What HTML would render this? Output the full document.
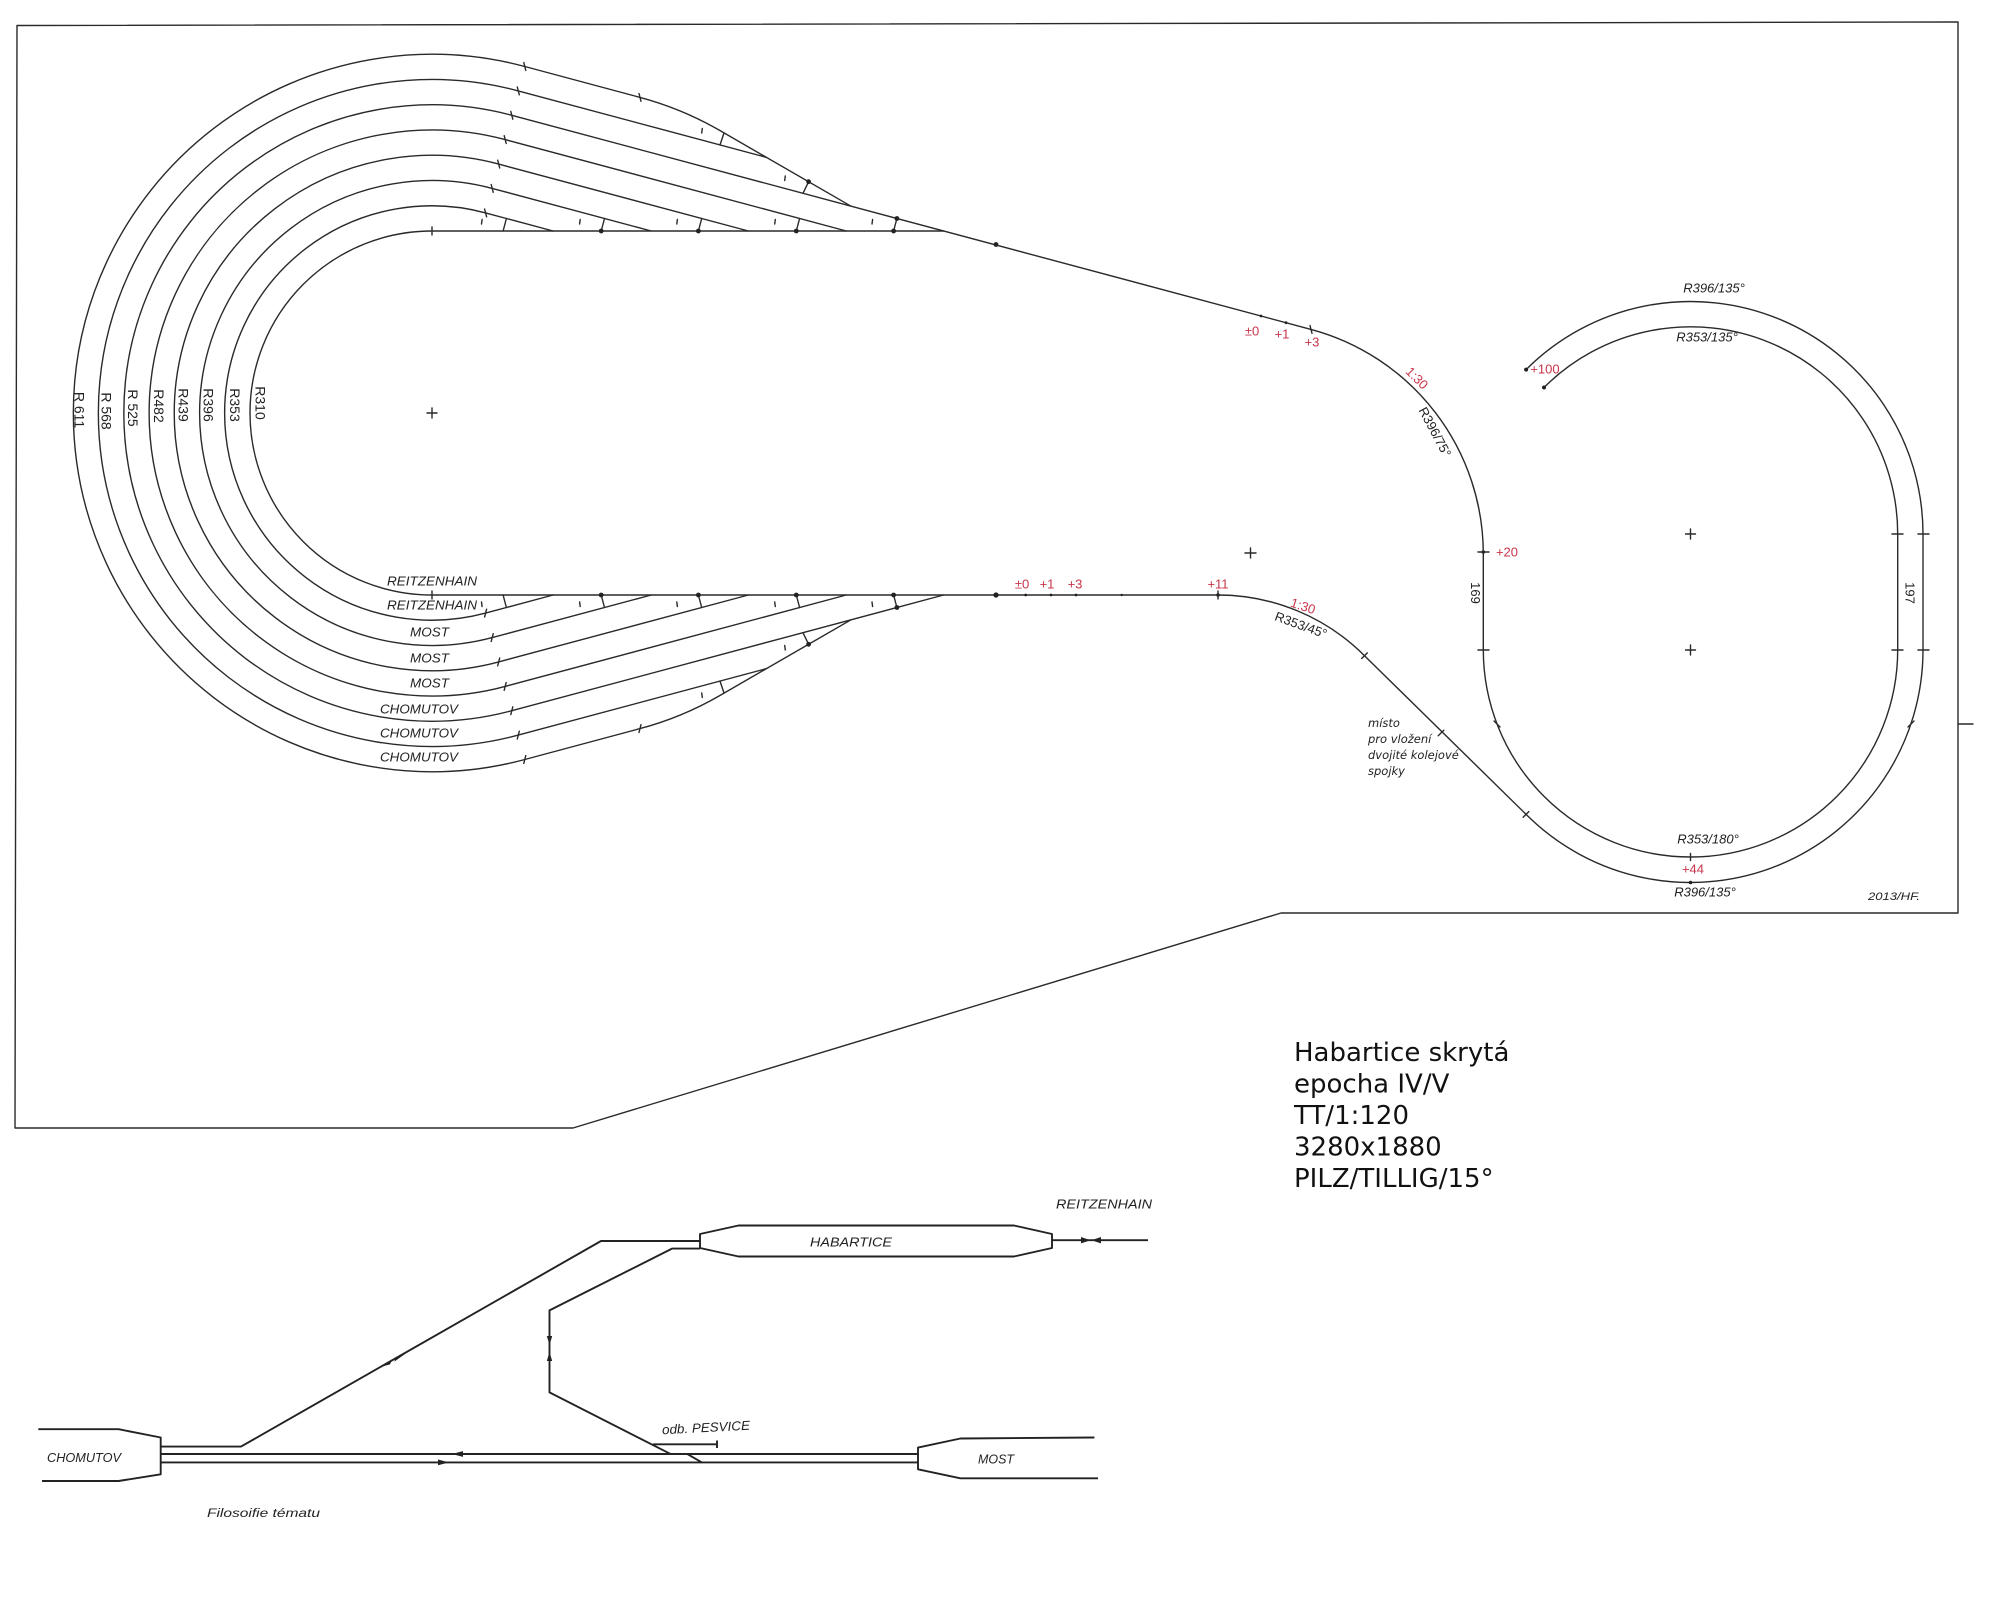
<!DOCTYPE html>
<html>
<head>
<meta charset="utf-8">
<style>
html,body{margin:0;padding:0;background:#fff;}
svg{display:block;}
.ln{fill:none;stroke:#2a2a2a;stroke-width:1.4;stroke-linejoin:round;stroke-linecap:round;}
.th{fill:none;stroke:#222;stroke-width:1.9;stroke-linejoin:round;}
.t{font-family:"Liberation Sans","DejaVu Sans",sans-serif;font-size:13px;fill:#222;}
.tr{font-family:"Liberation Sans","DejaVu Sans",sans-serif;font-size:14px;fill:#222;}
.ti{font-family:"Liberation Sans","DejaVu Sans",sans-serif;font-size:13px;fill:#222;font-style:italic;}
.r{font-family:"Liberation Sans","DejaVu Sans",sans-serif;font-size:13px;fill:#c8344a;}
.big{font-family:"DejaVu Sans","Liberation Sans",sans-serif;font-size:26px;fill:#111;}
.note{font-family:"DejaVu Sans","Liberation Sans",sans-serif;font-size:11.5px;fill:#222;font-style:italic;}
</style>
</head>
<body>
<svg width="2000" height="1600" viewBox="0 0 2000 1600" xmlns="http://www.w3.org/2000/svg">
<rect width="2000" height="1600" fill="#fff"/>

<!-- border -->
<path class="ln" d="M17,25.5 L1958,22 L1958,913 L1281,913 L573,1128 L15,1128 Z"/>
<path class="ln" d="M1958,724 L1973,724"/>

<!-- left loop tracks -->
<path class="ln" d="M553.1,231 L485.6,212.9 A207.2,207.2 0 1 0 485.6,613.1 L553.1,595"/>
<path class="ln" d="M651.2,231 L492.2,188.4 A232.5,232.5 0 1 0 492.2,637.6 L651.2,595"/>
<path class="ln" d="M748.4,231 L498.7,164.1 A257.7,257.7 0 1 0 498.7,661.9 L748.4,595"/>
<path class="ln" d="M846.3,231 L505.2,139.6 A283,283 0 1 0 505.2,686.4 L846.3,595"/>
<path class="ln" d="M1311,329.4 L511.8,115.3 A308.2,308.2 0 1 0 511.8,710.7 L943.6,595"/>
<path class="ln" d="M766.5,157.4 L518.3,90.9 A333.5,333.5 0 1 0 518.3,735.1 L766.5,668.6"/>
<path class="ln" d="M851,206.2 L719.7,130.4 Q682,108.6 640,97.4 L524.8,66.5 A358.7,358.7 0 1 0 524.8,759.5 L640,728.6 Q682,717.4 719.7,695.6 L851,619.8"/>
<!-- main inner track + bottom route + right loop outer -->
<path class="ln" d="M943.6,231 L432,231 A182,182 0 0 0 432,595 L1218,595 A207.2,207.2 0 0 1 1364.5,655.7 L1526.1,814.4 A232.5,232.5 0 0 0 1923,650 L1923,534 A232.5,232.5 0 0 0 1526.1,369.6"/>
<!-- upper route into right loop inner -->
<path class="ln" d="M1311,329.4 A232.5,232.5 0 0 1 1483.3,554 L1483.3,650 A207.2,207.2 0 0 0 1897.7,650 L1897.7,534 A207.2,207.2 0 0 0 1544,387.5"/>

<!-- tangent ticks -->
<path class="ln" d="M484.6,209 L486.6,216.8 M491.2,184.5 L493.2,192.3 M497.7,160.2 L499.7,168 M504.2,135.7 L506.2,143.5 M510.8,111.4 L512.8,119.2 M517.3,87 L519.3,94.8 M523.8,62.6 L525.8,70.4 M639,93.5 L641,101.3 M432,227 L432,235"/>
<path class="ln" d="M484.6,617 L486.6,609.2 M491.2,641.5 L493.2,633.7 M497.7,665.8 L499.7,658 M504.2,690.3 L506.2,682.5 M510.8,714.6 L512.8,706.8 M517.3,739 L519.3,731.2 M523.8,763.4 L525.8,755.6 M639,732.5 L641,724.7 M432,591 L432,599"/>

<!-- turnout markers top -->
<path class="ln" d="M503.1,231 L506.4,218.5 M601.2,231 L604.5,218.5 M698.4,231 L701.7,218.5 M796.3,231 L799.6,218.5 M893.6,231 L896.9,218.5 M803,193.3 L808.6,181.7 M720,144.9 L724,133"/>
<path class="ln" d="M481.5,224 L482.1,219.5 M579.6,224 L580.2,219.5 M676.8,224 L677.4,219.5 M774.7,224 L775.3,219.5 M872,224 L872.6,219.5 M784.7,180.5 L785.3,176 M701.7,133 L702.3,128.5"/>
<!-- turnout markers bottom -->
<path class="ln" d="M503.1,595 L506.4,607.5 M601.2,595 L604.5,607.5 M698.4,595 L701.7,607.5 M796.3,595 L799.6,607.5 M893.6,595 L896.9,607.5 M803,632.7 L808.6,644.3 M720,681.1 L724,693"/>
<path class="ln" d="M481.5,602 L482.1,606.5 M579.6,602 L580.2,606.5 M676.8,602 L677.4,606.5 M774.7,602 L775.3,606.5 M872,602 L872.6,606.5 M784.7,645.5 L785.3,650 M701.7,693 L702.3,697.5"/>
<g fill="#222">
<circle cx="601.2" cy="231" r="2.4"/><circle cx="698.4" cy="231" r="2.4"/><circle cx="796.3" cy="231" r="2.4"/><circle cx="893.6" cy="231" r="2.4"/><circle cx="896.9" cy="218.5" r="2.4"/><circle cx="808.6" cy="181.7" r="2.4"/><circle cx="996" cy="244.5" r="2.4"/>
<circle cx="601.2" cy="595" r="2.4"/><circle cx="698.4" cy="595" r="2.4"/><circle cx="796.3" cy="595" r="2.4"/><circle cx="893.6" cy="595" r="2.4"/><circle cx="896.9" cy="607.5" r="2.4"/><circle cx="808.6" cy="644.3" r="2.4"/><circle cx="996" cy="595" r="2.6"/>
<circle cx="1261" cy="316" r="1.4"/><circle cx="1286" cy="322.7" r="1.4"/>
<circle cx="1025.7" cy="595" r="1.4"/><circle cx="1051" cy="595" r="1.4"/><circle cx="1076" cy="595" r="1.4"/><circle cx="1121.7" cy="595" r="1.2"/>
<circle cx="1483.3" cy="552" r="1.8"/><circle cx="1218" cy="595" r="1.8"/>
<circle cx="1526.1" cy="369.6" r="2"/><circle cx="1544" cy="387.5" r="2"/>
<circle cx="1690.5" cy="882.5" r="1.8"/>
</g>

<!-- other ticks -->
<path class="ln" d="M1310,325.5 L1312,333.3 M1218,591 L1218,599 M1478,552 L1489,552 M1478,650 L1489,650 M1892,534 L1903,534 M1892,650 L1903,650 M1918,534 L1929,534 M1918,650 L1929,650 M1361.7,658.5 L1367.3,652.9 M1438.2,735.8 L1443.8,730.2 M1523.2,817.2 L1528.8,811.6 M1494,721 L1500,727 M1908,727 L1914,721 M1690.5,853.5 L1690.5,860.5"/>

<!-- crosses -->
<path class="ln" d="M427,413 L437,413 M432,408 L432,418 M1245,553 L1256,553 M1250.5,548 L1250.5,558 M1685.5,534 L1695.5,534 M1690.5,529 L1690.5,539 M1685.5,650 L1695.5,650 M1690.5,645 L1690.5,655"/>

<!-- left loop radius labels -->
<text class="tr" text-anchor="middle" dy="5" transform="translate(79.3,410) rotate(90)">R 611</text>
<text class="tr" text-anchor="middle" dy="5" transform="translate(106.7,411) rotate(90)">R 568</text>
<text class="tr" text-anchor="middle" dy="5" transform="translate(133,408) rotate(90)">R 525</text>
<text class="tr" text-anchor="middle" dy="5" transform="translate(159,406) rotate(90)">R482</text>
<text class="tr" text-anchor="middle" dy="5" transform="translate(183.5,405) rotate(90)">R439</text>
<text class="tr" text-anchor="middle" dy="5" transform="translate(208.5,405) rotate(90)">R396</text>
<text class="tr" text-anchor="middle" dy="5" transform="translate(235,405) rotate(90)">R353</text>
<text class="tr" text-anchor="middle" dy="5" transform="translate(260.5,403) rotate(90)">R310</text>

<!-- track destination labels -->
<text class="ti" x="387" y="585.5" textLength="90" lengthAdjust="spacingAndGlyphs">REITZENHAIN</text>
<text class="ti" x="387" y="609.5" textLength="90" lengthAdjust="spacingAndGlyphs">REITZENHAIN</text>
<text class="ti" x="410" y="636.5" textLength="39" lengthAdjust="spacingAndGlyphs">MOST</text>
<text class="ti" x="410" y="662.5" textLength="39" lengthAdjust="spacingAndGlyphs">MOST</text>
<text class="ti" x="410" y="687.5" textLength="39" lengthAdjust="spacingAndGlyphs">MOST</text>
<text class="ti" x="380" y="713.5" textLength="78" lengthAdjust="spacingAndGlyphs">CHOMUTOV</text>
<text class="ti" x="380" y="737.5" textLength="78" lengthAdjust="spacingAndGlyphs">CHOMUTOV</text>
<text class="ti" x="380" y="761.5" textLength="78" lengthAdjust="spacingAndGlyphs">CHOMUTOV</text>

<!-- red height marks -->
<text class="r" text-anchor="middle" x="1252" y="335.5">±0</text>
<text class="r" text-anchor="middle" x="1282" y="338.5">+1</text>
<text class="r" text-anchor="middle" x="1312" y="346.5">+3</text>
<text class="r" text-anchor="middle" x="1022" y="588.5">±0</text>
<text class="r" text-anchor="middle" x="1047" y="588.5">+1</text>
<text class="r" text-anchor="middle" x="1075" y="588.5">+3</text>
<text class="r" text-anchor="middle" x="1218" y="588.5">+11</text>
<text class="r" text-anchor="middle" x="1507" y="556.5">+20</text>
<text class="r" text-anchor="middle" x="1545" y="373.5">+100</text>
<text class="r" text-anchor="middle" x="1693" y="873.5">+44</text>
<text class="r" text-anchor="middle" dy="4.5" transform="translate(1417,378) rotate(45)">1:30</text>
<text class="r" text-anchor="middle" dy="4.5" transform="translate(1303,606) rotate(18)">1:30</text>

<!-- right section labels -->
<text class="t" text-anchor="middle" dy="4.5" transform="translate(1435,432) rotate(62)">R396/75°</text>
<text class="t" text-anchor="middle" dy="4.5" transform="translate(1301,625) rotate(20)">R353/45°</text>
<text class="t" text-anchor="middle" dy="4.5" transform="translate(1475.5,593) rotate(90)">169</text>
<text class="t" text-anchor="middle" dy="4.5" transform="translate(1910,593) rotate(90)">197</text>
<text class="ti" text-anchor="middle" x="1714" y="292.5">R396/135°</text>
<text class="ti" text-anchor="middle" x="1707" y="341.5">R353/135°</text>
<text class="ti" text-anchor="middle" x="1708" y="843.5">R353/180°</text>
<text class="ti" text-anchor="middle" x="1705" y="896.5">R396/135°</text>
<text class="ti" x="1868" y="900" textLength="52" lengthAdjust="spacingAndGlyphs" style="font-size:11px">2013/HF.</text>

<text class="note" x="1368" y="727">místo</text>
<text class="note" x="1368" y="743">pro vložení</text>
<text class="note" x="1368" y="759">dvojité kolejové</text>
<text class="note" x="1368" y="775">spojky</text>

<!-- info block -->
<text class="big" x="1294" y="1061">Habartice skrytá</text>
<text class="big" x="1294" y="1092.5">epocha IV/V</text>
<text class="big" x="1294" y="1124">TT/1:120</text>
<text class="big" x="1294" y="1155.5">3280x1880</text>
<text class="big" x="1294" y="1187">PILZ/TILLIG/15°</text>

<!-- schematic -->
<path class="th" d="M738.5,1225.5 L1014,1225.5 L1052,1234 L1052,1248 L1014,1256.5 L738.5,1256.5 L700,1248 L700,1234 Z"/>
<path class="th" d="M700,1241 L601,1241 L241,1446.6 L161,1446.6"/>
<path class="th" d="M700,1248.6 L672,1248.6 L549.5,1310.4 L549.5,1392.4 L670,1453.7"/>
<path class="th" d="M686.7,1453.7 L701.7,1462.3"/>
<path class="th" d="M1052,1240.2 L1148,1240.2"/>
<path class="th" d="M38.3,1429.2 L118.6,1429.2 L160.7,1437.5 L160.7,1474.3 L118.6,1481 L42,1481"/>
<path class="th" d="M160.7,1454 L918,1454 M160.7,1462.4 L918,1462.4"/>
<path class="th" d="M1094.4,1437.5 L960.4,1438.5 L918,1447.6 L918,1469.3 L960.4,1478.3 L1098,1478.3"/>
<path class="th" d="M653,1444.3 L717,1444.3 M717,1440.5 L717,1448"/>
<g fill="#222">
<polygon points="384,1366 392,1359.6 390,1364.4"/>
<polygon points="405,1354 396,1357.4 394.2,1361.8"/>
<polygon points="549.5,1345 546.8,1336 552.2,1336"/>
<polygon points="549.5,1352 546.8,1361 552.2,1361"/>
<polygon points="452,1454 463,1451.1 463,1456.9"/>
<polygon points="449,1462.4 438,1459.5 438,1465.3"/>
<polygon points="1090.5,1240.2 1081,1237 1081,1243.4"/>
<polygon points="1091.5,1240.2 1101,1237 1101,1243.4"/>
</g>
<text class="ti" x="1056" y="1208.5" textLength="96" lengthAdjust="spacingAndGlyphs">REITZENHAIN</text>
<text class="ti" x="810" y="1246.5" textLength="82" lengthAdjust="spacingAndGlyphs">HABARTICE</text>
<text class="ti" x="47" y="1462" textLength="74" lengthAdjust="spacingAndGlyphs">CHOMUTOV</text>
<text class="ti" x="978" y="1463.5" textLength="36" lengthAdjust="spacingAndGlyphs">MOST</text>
<text class="ti" x="662" y="1432" textLength="88" lengthAdjust="spacingAndGlyphs" transform="rotate(-3 706 1428)">odb. PESVICE</text>
<text class="ti" x="207" y="1517" textLength="113" lengthAdjust="spacingAndGlyphs" style="font-size:12px">Filosoifie tématu</text>
</svg>
</body>
</html>
